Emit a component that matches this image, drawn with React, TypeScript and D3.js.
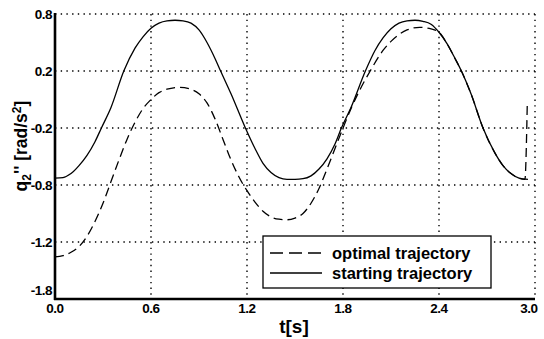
import React from "react";
import * as d3 from "d3";

// time axis
const xTickValues = [0, 0.6, 1.2, 1.8, 2.4, 3.0];
const xTickLabels = ["0.0", "0.6", "1.2", "1.8", "2.4", "3.0"];
// y axis (gridlines evenly spaced; labels as printed)
const yTickValues = [0.8, 0.3, -0.2, -0.7, -1.2, -1.7];
const yTickLabels = ["0.8", "0.2", "-0.2", "-0.8", "-1.2", "-1.8"];

// starting trajectory
const startT = [0, 0.05, 0.1, 0.15, 0.2, 0.25, 0.29, 0.35, 0.43, 0.5, 0.55, 0.6, 0.65, 0.7, 0.75, 0.8, 0.85, 0.9, 0.95, 1.0, 1.035, 1.1, 1.19, 1.25, 1.3, 1.35, 1.4, 1.45, 1.5, 1.55, 1.6, 1.65, 1.7, 1.75, 1.79, 1.85, 1.94, 2.0, 2.05, 2.1, 2.15, 2.2, 2.25, 2.3, 2.35, 2.4, 2.45, 2.5, 2.54, 2.6, 2.675, 2.75, 2.8, 2.85, 2.9, 2.956];
const startV = [-0.64, -0.635, -0.6, -0.53, -0.44, -0.32, -0.2, -0.02, 0.3, 0.5, 0.6, 0.675, 0.72, 0.74, 0.745, 0.74, 0.72, 0.66, 0.55, 0.41, 0.3, 0.1, -0.2, -0.38, -0.51, -0.59, -0.635, -0.65, -0.65, -0.645, -0.62, -0.56, -0.47, -0.34, -0.2, -0.02, 0.3, 0.48, 0.59, 0.67, 0.72, 0.74, 0.745, 0.735, 0.71, 0.64, 0.54, 0.41, 0.3, 0.1, -0.2, -0.42, -0.53, -0.6, -0.64, -0.65];

// optimal trajectory
const optT = [0, 0.05, 0.1, 0.15, 0.2, 0.25, 0.3, 0.35, 0.4, 0.45, 0.5, 0.55, 0.6, 0.65, 0.7, 0.78, 0.85, 0.9, 0.95, 1.0, 1.05, 1.1, 1.15, 1.2, 1.25, 1.3, 1.35, 1.4, 1.45, 1.5, 1.55, 1.6, 1.65, 1.7, 1.75, 1.8, 1.85, 1.9, 1.97, 2.05, 2.1, 2.15, 2.2, 2.28, 2.35, 2.4, 2.45, 2.5, 2.54, 2.6, 2.675, 2.75, 2.8, 2.85, 2.9, 2.937, 2.952];
const optV = [-1.33, -1.32, -1.29, -1.24, -1.15, -1.02, -0.86, -0.67, -0.48, -0.3, -0.15, -0.03, 0.05, 0.11, 0.14, 0.157, 0.14, 0.1, 0.02, -0.12, -0.3, -0.48, -0.63, -0.75, -0.85, -0.93, -0.98, -1.0, -1.005, -0.99, -0.95, -0.86, -0.73, -0.56, -0.38, -0.2, -0.03, 0.12, 0.3, 0.48, 0.56, 0.62, 0.66, 0.683, 0.67, 0.64, 0.54, 0.41, 0.3, 0.1, -0.2, -0.42, -0.53, -0.6, -0.64, -0.65, 0.03];

const W = 544;
const H = 339;
const left = 55;
const right = 535;
const top = 14;
const bottom = 299;

export default function App() {
  const x = d3.scaleLinear().domain([0, 3]).range([left, right]);
  const y = d3.scaleLinear().domain([-1.7, 0.8]).range([bottom, top]);
  const line = d3
    .line<[number, number]>()
    .x((d) => x(d[0]))
    .y((d) => y(d[1]))
    .curve(d3.curveMonotoneX);
  const startPts: [number, number][] = startT.map((t, i) => [t, startV[i]]);
  const optPts: [number, number][] = optT.map((t, i) => [t, optV[i]]);
  const font = "'Liberation Sans', Arial, sans-serif";
  const grid = { stroke: "#000", strokeWidth: 1.4, strokeDasharray: "1.4,4.3" };

  const lgX = 263, lgY = 236, lgW = 228, lgH = 52;

  return (
    <svg
      width={W}
      height={H}
      style={{ position: "absolute", left: 0, top: 0, background: "#fff" }}
      fontFamily={font}
    >
      <rect x={0} y={0} width={W} height={H} fill="#fff" />
      {/* grid */}
      {yTickValues.map((v) => (
        <line key={"gy" + v} x1={left} x2={right} y1={y(v)} y2={y(v)} {...grid} />
      ))}
      {xTickValues.map((v) => (
        <line key={"gx" + v} x1={x(v)} x2={x(v)} y1={top} y2={bottom} {...grid} />
      ))}
      {/* curves */}
      <path d={line(startPts) || ""} fill="none" stroke="#000" strokeWidth={1.3} />
      <path d={line(optPts) || ""} fill="none" stroke="#000" strokeWidth={1.3} strokeDasharray="9,5" />
      {/* axes */}
      <line x1={left} x2={left} y1={top - 1} y2={bottom + 1} stroke="#000" strokeWidth={2.6} />
      <line x1={left - 1} x2={right} y1={bottom} y2={bottom} stroke="#000" strokeWidth={2.6} />
      {/* tick labels */}
      {yTickValues.map((v, i) => (
        <text
          key={"yl" + v}
          x={left - 3}
          y={y(v) + (i === yTickValues.length - 1 ? -9 : 0)}
          textAnchor="end"
          dominantBaseline="central"
          fontSize={13.5}
          fontWeight="bold"
          letterSpacing={-0.5}
        >
          {yTickLabels[i]}
        </text>
      ))}
      {xTickValues.map((v, i) => (
        <text
          key={"xl" + v}
          x={x(v) - (i === xTickValues.length - 1 ? 6 : 0)}
          y={313}
          textAnchor="middle"
          fontSize={13.5}
          fontWeight="bold"
          letterSpacing={-0.5}
        >
          {xTickLabels[i]}
        </text>
      ))}
      {/* axis titles */}
      <text x={294} y={333} textAnchor="middle" fontSize={19} fontWeight="bold">
        t[s]
      </text>
      <text
        transform="translate(27,146) rotate(-90)"
        textAnchor="middle"
        fontSize={17.5}
        fontWeight="bold"
      >
        <tspan>q</tspan>
        <tspan fontSize={12} dy={4}>2</tspan>
        <tspan dy={-4}>'' [rad/s</tspan>
        <tspan fontSize={12} dy={-6}>2</tspan>
        <tspan dy={6}>]</tspan>
      </text>
      {/* legend */}
      <rect x={lgX} y={lgY} width={lgW} height={lgH} fill="#fff" stroke="#000" strokeWidth={1.3} />
      <line x1={lgX + 7} x2={lgX + 59} y1={lgY + 17} y2={lgY + 17} stroke="#000" strokeWidth={1.3} strokeDasharray="13,6" />
      <line x1={lgX + 7} x2={lgX + 59} y1={lgY + 37} y2={lgY + 37} stroke="#000" strokeWidth={1.3} />
      <text x={lgX + 69} y={lgY + 17} dominantBaseline="central" fontSize={16.5} fontWeight="bold">
        optimal trajectory
      </text>
      <text x={lgX + 69} y={lgY + 37} dominantBaseline="central" fontSize={16.5} fontWeight="bold">
        starting trajectory
      </text>
    </svg>
  );
}
